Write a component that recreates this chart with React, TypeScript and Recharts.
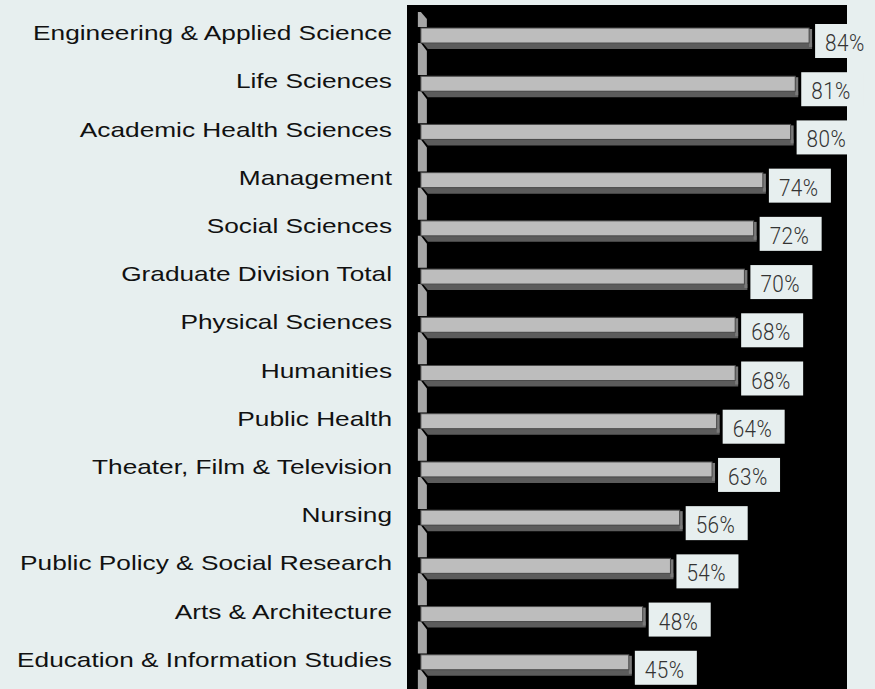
import { BarChart, Bar, XAxis, YAxis, CartesianGrid, LabelList } from 'recharts'

const categories = [
  'Engineering & Applied Science',
  'Life Sciences',
  'Academic Health Sciences',
  'Management',
  'Social Sciences',
  'Graduate Division Total',
  'Physical Sciences',
  'Humanities',
  'Public Health',
  'Theater, Film & Television',
  'Nursing',
  'Public Policy & Social Research',
  'Arts & Architecture',
  'Education & Information Studies',
]

const values = [84, 81, 80, 74, 72, 70, 68, 68, 64, 63, 56, 54, 48, 45]

const data = categories.map((name, i) => ({ name, value: values[i] }))

const BG = '#e7efef'

function BarShape(props: any) {
  const { x, y, width, index } = props
  const face = 15
  return (
    <g>
      {index === 0 && (
        <polygon
          points={`${x - 3},${y - 16} ${x},${y - 16} ${x + 6},${y - 9} ${x + 6},${y - 1} ${x - 3},${y - 1}`}
          fill="#a6a6a6"
        />
      )}
      <polygon
        points={`${x - 3},${y + face} ${x},${y + face} ${x + 6},${y + face + 8} ${x + 6},${y + 47} ${x - 3},${y + 47}`}
        fill="#a6a6a6"
      />
      <polygon
        points={`${x + 2},${y + face} ${x + width + 3},${y + face} ${x + width + 3},${y + 21} ${x + 7},${y + 21}`}
        fill="#5c5c5c"
      />
      <rect x={x + width} y={y + 1} width={3} height={face + 3} fill="#7a7a7a" />
      <rect x={x} y={y} width={width} height={face} fill="#bdbdbd" stroke="#4a4a4a" strokeWidth={1} />
    </g>
  )
}

function ValueLabel(props: any) {
  const { x, y, width, value } = props
  const bx = x + width + 6
  return (
    <g>
      <rect x={bx} y={y - 4} width={62} height={34} fill={BG} />
      <text
        transform={`translate(${bx + 10},${y + 23}) scale(0.9,1)`}
        fontFamily="Roboto, 'Liberation Sans', Arial, sans-serif"
        fontWeight={300}
        fontSize={23}
        letterSpacing={0.5}
        fill="#333"
      >
        {value}%
      </text>
    </g>
  )
}

function CategoryTick(props: any) {
  const { x, y, payload } = props
  return (
    <text
      transform={`translate(${x},${y + 2}) scale(1.25,1)`}
      textAnchor="end"
      fontFamily="'Liberation Sans', Arial, sans-serif"
      fontSize={21}
      fill="#111"
    >
      {payload.value}
    </text>
  )
}

export default function App() {
  return (
    <div style={{ position: 'absolute', left: 0, top: 0, width: 875, height: 689, background: BG, overflow: 'hidden' }}>
      <div style={{ position: 'absolute', left: 407, top: 5, width: 440, height: 684, background: '#000' }} />
      <BarChart
        width={875}
        height={689}
        data={data}
        layout="vertical"
        margin={{ top: 14, right: 28, left: 0, bottom: 0 }}
        style={{ position: 'absolute', left: 0, top: 0 }}
      >
        <CartesianGrid horizontal={false} vertical={false} />
        <XAxis type="number" domain={[-3, 92.2]} hide allowDataOverflow />
        <YAxis
          type="category"
          dataKey="name"
          width={407}
          axisLine={false}
          tickLine={false}
          tickSize={0}
          tickMargin={15}
          interval={0}
          tick={<CategoryTick />}
        />
        <Bar dataKey="value" barSize={21} shape={<BarShape />} isAnimationActive={false}>
          <LabelList dataKey="value" content={<ValueLabel />} />
        </Bar>
      </BarChart>
    </div>
  )
}
